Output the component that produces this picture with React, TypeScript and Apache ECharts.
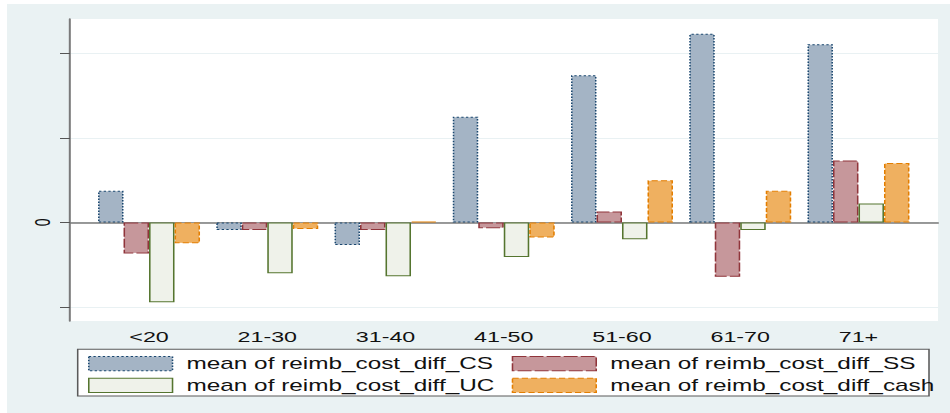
import React, { useEffect, useRef } from "react";
import * as echarts from "echarts";

const categories = ["<20", "21-30", "31-40", "41-50", "51-60", "61-70", "71+"];
const seriesNames = [
  "mean of reimb_cost_diff_CS",
  "mean of reimb_cost_diff_SS",
  "mean of reimb_cost_diff_UC",
  "mean of reimb_cost_diff_cash",
];
const valuesCS = [0.376, -0.09, -0.268, 1.25, 1.743, 2.232, 2.11];
const valuesSS = [-0.366, -0.088, -0.09, -0.067, 0.13, -0.643, 0.733];
const valuesUC = [-0.944, -0.6, -0.635, -0.41, -0.2, -0.09, 0.225];
const valuesCash = [-0.247, -0.077, 0.01, -0.178, 0.5, 0.374, 0.705];
const yTickValues = [-1, 0, 1, 2];
const yLabelValues = [0];
const yMin = -1.166;
const yMax = 2.408;

// layout: the chart is drawn narrow and stretched horizontally (like the reference)
const W = 608;
const H = 409;
const OFFX = 7;
const OFFY = 4;
const S = (950 - OFFX) / W;
const cx = (px: number) => (px - OFFX) / S;
const cy = (py: number) => py - OFFY;

const FONT = "'Liberation Sans', Arial, sans-serif";

export default function App() {
  const ref = useRef<HTMLDivElement>(null);
  useEffect(() => {
    if (!ref.current) return;
    const chart = echarts.init(ref.current, undefined, { renderer: "svg" });
    const styles: any[] = [
      { color: "#a4b4c5", borderColor: "#1a476f", borderType: [1.5, 1.5], borderWidth: 1 },
      { color: "#c6979b", borderColor: "#90353b", borderType: [9, 2], borderWidth: 1 },
      { color: "#eff2ea", borderColor: "#55752f", borderType: "solid", borderWidth: 1 },
      { color: "#efb060", borderColor: "#e37e00", borderType: [4, 2], borderWidth: 1 },
    ];
    const data = [valuesCS, valuesSS, valuesUC, valuesCash];
    const gridTop = cy(19);
    const gridBottom = H - cy(321);
    const legendCommon = {
      orient: "vertical" as const,
      top: cy(355.7),
      padding: 0,
      itemWidth: 54,
      itemHeight: 14.3,
      itemGap: 5.7,
      icon: "rect",
      textStyle: {
        fontFamily: FONT,
        fontSize: 15.7,
        color: "#111",
        lineHeight: 14.3,
        padding: [0, 0, 0, 4],
      },
    };
    const legendItem = (i: number) => ({ name: seriesNames[i], itemStyle: styles[i] });
    chart.setOption({
      animation: false,
      backgroundColor: "#eaf2f3",
      grid: [
        {
          left: cx(70),
          right: W - cx(938),
          top: gridTop,
          bottom: gridBottom,
          show: true,
          backgroundColor: "#ffffff",
          borderWidth: 0,
        },
        {
          left: cx(89.9),
          right: W - cx(917.6),
          top: gridTop,
          bottom: gridBottom,
        },
      ],
      xAxis: [
        {
          gridIndex: 0,
          type: "value",
          min: 0,
          max: 1,
          axisLine: { show: true, lineStyle: { color: "#7a7a7a", width: 1.5 } },
          axisTick: { show: false },
          axisLabel: { show: false },
          splitLine: { show: false },
        },
        {
          gridIndex: 1,
          type: "category",
          data: categories,
          axisLine: { show: false },
          axisTick: { show: false },
          axisLabel: { fontFamily: FONT, fontSize: 15, color: "#111", margin: 8 },
          splitLine: { show: false },
        },
      ],
      yAxis: [
        {
          gridIndex: 0,
          type: "value",
          min: yMin,
          max: yMax,
          axisLine: { show: true, lineStyle: { color: "#7a7a7a", width: 1.3 } },
          axisTick: {
            show: true,
            customValues: yTickValues,
            length: 10 / S,
            lineStyle: { color: "#555", width: 1 },
          },
          axisLabel: {
            show: true,
            customValues: yLabelValues,
            rotate: 90,
            margin: 11,
            fontFamily: FONT,
            fontSize: 14,
            color: "#111",
          },
          splitLine: { show: true, lineStyle: { color: "#e9f1f3", width: 1 } },
        },
        {
          gridIndex: 1,
          type: "value",
          min: yMin,
          max: yMax,
          show: false,
          splitLine: { show: false },
        },
      ],
      legend: [
        { ...legendCommon, left: cx(88), data: [legendItem(0), legendItem(2)] },
        { ...legendCommon, left: cx(511.7), data: [legendItem(1), legendItem(3)] },
      ],
      graphic: [
        {
          type: "rect",
          z: 0,
          shape: {
            x: cx(77.7),
            y: cy(349.3),
            width: cx(929) - cx(77.7),
            height: 396 - 349.3,
          },
          style: { fill: "#ffffff", stroke: "#5a5a5a", lineWidth: 1 },
        },
      ],
      series: seriesNames.map((name, i) => ({
        name,
        type: "bar",
        xAxisIndex: 1,
        yAxisIndex: 1,
        data: data[i],
        barWidth: 25.5 / S,
        barGap: "0%",
        itemStyle: styles[i],
      })),
    });
    return () => chart.dispose();
  }, []);
  return (
    <div
      style={{
        position: "fixed",
        left: 0,
        top: 0,
        width: 950,
        height: 413,
        overflow: "hidden",
        background: "#ffffff",
      }}
    >
      <div
        ref={ref}
        style={{
          position: "absolute",
          left: OFFX,
          top: OFFY,
          width: W,
          height: H,
          transform: `scaleX(${S})`,
          transformOrigin: "0 0",
        }}
      />
    </div>
  );
}
